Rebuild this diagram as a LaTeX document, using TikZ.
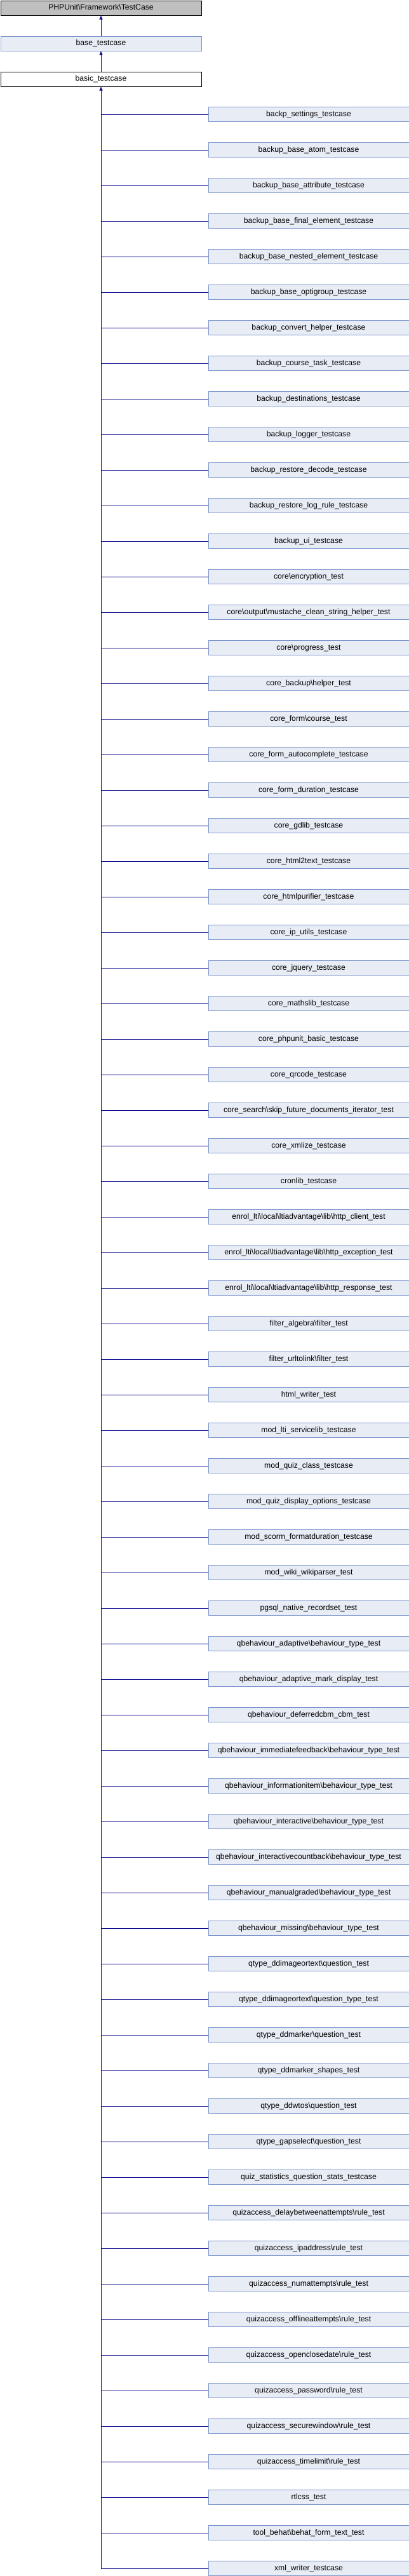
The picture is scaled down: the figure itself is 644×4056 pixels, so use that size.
\documentclass[tikz,border=0pt]{standalone}
\usepackage{fontspec}
\setmainfont{Liberation Sans}
\usetikzlibrary{arrows.meta}
\definecolor{kidfill}{RGB}{232,236,245}
\definecolor{kidline}{RGB}{124,149,204}
\definecolor{topfill}{RGB}{191,191,191}
\definecolor{linkcol}{RGB}{10,10,140}
\tikzset{
  basebox/.style={draw, line width=1pt, minimum width=316pt, minimum height=23pt, inner sep=0pt,
    text height=9pt, text depth=2.5pt, font=\fontsize{12.2}{14}\selectfont},
  kidbox/.style={basebox, draw=kidline, fill=kidfill},
  topbox/.style={basebox, draw=black, fill=topfill},
  plainbox/.style={basebox, draw=black, fill=white},
  link/.style={draw=linkcol, line width=1pt},
  inherit/.style={link, -{Triangle[length=6pt,width=5pt]}},
}
\newcommand\kid[2]{%
  \node[kidbox, anchor=north west] (c#1) at (327.5,{168+56*(#1-1)}) {#2};
  \draw[link] (c#1.west) -- (basic.south |- c#1.west);
}
\begin{document}
\begin{tikzpicture}[x=1pt,y=-1pt]
\useasboundingbox[fill=white] (0,0) rectangle (644,4056);
\node[topbox, anchor=north west] (phpunit) at (0.5,0.5) {PHPUnit\textbackslash Framework\textbackslash TestCase};
\node[kidbox, anchor=north west] (base) at (0.5,56.5) {base\_testcase};
\node[plainbox, anchor=north west] (basic) at (0.5,112.5) {basic\_testcase};
\draw[inherit] (base.north) -- (phpunit.south);
\draw[inherit] (basic.north) -- (base.south);
\kid{1}{backp\_settings\_testcase}
\kid{2}{backup\_base\_atom\_testcase}
\kid{3}{backup\_base\_attribute\_testcase}
\kid{4}{backup\_base\_final\_element\_testcase}
\kid{5}{backup\_base\_nested\_element\_testcase}
\kid{6}{backup\_base\_optigroup\_testcase}
\kid{7}{backup\_convert\_helper\_testcase}
\kid{8}{backup\_course\_task\_testcase}
\kid{9}{backup\_destinations\_testcase}
\kid{10}{backup\_logger\_testcase}
\kid{11}{backup\_restore\_decode\_testcase}
\kid{12}{backup\_restore\_log\_rule\_testcase}
\kid{13}{backup\_ui\_testcase}
\kid{14}{core\textbackslash encryption\_test}
\kid{15}{core\textbackslash output\textbackslash mustache\_clean\_string\_helper\_test}
\kid{16}{core\textbackslash progress\_test}
\kid{17}{core\_backup\textbackslash helper\_test}
\kid{18}{core\_form\textbackslash course\_test}
\kid{19}{core\_form\_autocomplete\_testcase}
\kid{20}{core\_form\_duration\_testcase}
\kid{21}{core\_gdlib\_testcase}
\kid{22}{core\_html2text\_testcase}
\kid{23}{core\_htmlpurifier\_testcase}
\kid{24}{core\_ip\_utils\_testcase}
\kid{25}{core\_jquery\_testcase}
\kid{26}{core\_mathslib\_testcase}
\kid{27}{core\_phpunit\_basic\_testcase}
\kid{28}{core\_qrcode\_testcase}
\kid{29}{core\_search\textbackslash skip\_future\_documents\_iterator\_test}
\kid{30}{core\_xmlize\_testcase}
\kid{31}{cronlib\_testcase}
\kid{32}{enrol\_lti\textbackslash local\textbackslash ltiadvantage\textbackslash lib\textbackslash http\_client\_test}
\kid{33}{enrol\_lti\textbackslash local\textbackslash ltiadvantage\textbackslash lib\textbackslash http\_exception\_test}
\kid{34}{enrol\_lti\textbackslash local\textbackslash ltiadvantage\textbackslash lib\textbackslash http\_response\_test}
\kid{35}{filter\_algebra\textbackslash filter\_test}
\kid{36}{filter\_urltolink\textbackslash filter\_test}
\kid{37}{html\_writer\_test}
\kid{38}{mod\_lti\_servicelib\_testcase}
\kid{39}{mod\_quiz\_class\_testcase}
\kid{40}{mod\_quiz\_display\_options\_testcase}
\kid{41}{mod\_scorm\_formatduration\_testcase}
\kid{42}{mod\_wiki\_wikiparser\_test}
\kid{43}{pgsql\_native\_recordset\_test}
\kid{44}{qbehaviour\_adaptive\textbackslash behaviour\_type\_test}
\kid{45}{qbehaviour\_adaptive\_mark\_display\_test}
\kid{46}{qbehaviour\_deferredcbm\_cbm\_test}
\kid{47}{qbehaviour\_immediatefeedback\textbackslash behaviour\_type\_test}
\kid{48}{qbehaviour\_informationitem\textbackslash behaviour\_type\_test}
\kid{49}{qbehaviour\_interactive\textbackslash behaviour\_type\_test}
\kid{50}{qbehaviour\_interactivecountback\textbackslash behaviour\_type\_test}
\kid{51}{qbehaviour\_manualgraded\textbackslash behaviour\_type\_test}
\kid{52}{qbehaviour\_missing\textbackslash behaviour\_type\_test}
\kid{53}{qtype\_ddimageortext\textbackslash question\_test}
\kid{54}{qtype\_ddimageortext\textbackslash question\_type\_test}
\kid{55}{qtype\_ddmarker\textbackslash question\_test}
\kid{56}{qtype\_ddmarker\_shapes\_test}
\kid{57}{qtype\_ddwtos\textbackslash question\_test}
\kid{58}{qtype\_gapselect\textbackslash question\_test}
\kid{59}{quiz\_statistics\_question\_stats\_testcase}
\kid{60}{quizaccess\_delaybetweenattempts\textbackslash rule\_test}
\kid{61}{quizaccess\_ipaddress\textbackslash rule\_test}
\kid{62}{quizaccess\_numattempts\textbackslash rule\_test}
\kid{63}{quizaccess\_offlineattempts\textbackslash rule\_test}
\kid{64}{quizaccess\_openclosedate\textbackslash rule\_test}
\kid{65}{quizaccess\_password\textbackslash rule\_test}
\kid{66}{quizaccess\_securewindow\textbackslash rule\_test}
\kid{67}{quizaccess\_timelimit\textbackslash rule\_test}
\kid{68}{rtlcss\_test}
\kid{69}{tool\_behat\textbackslash behat\_form\_text\_test}
\kid{70}{xml\_writer\_testcase}
\coordinate (trunkend) at (basic.south |- c70.west);
\draw[inherit] (trunkend) -- (basic.south);
\end{tikzpicture}
\end{document}
